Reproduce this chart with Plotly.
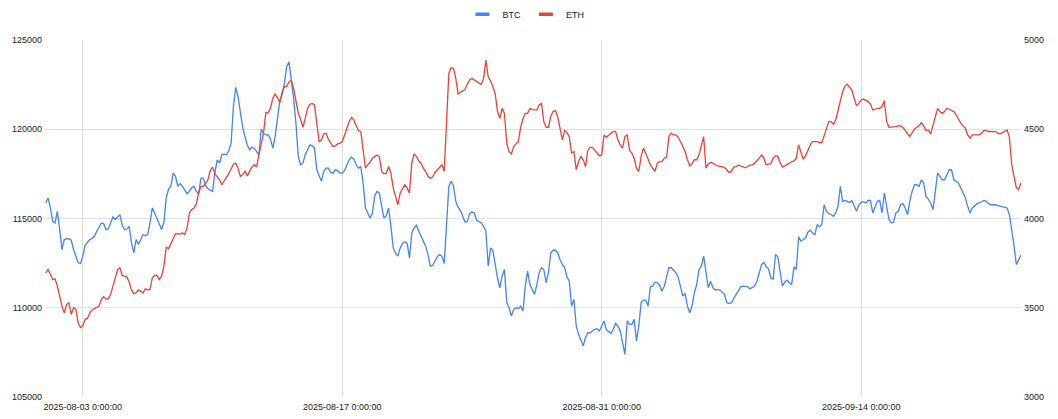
import pandas as pd
import plotly.graph_objects as go

# Prices.
# *_a : samples at 00/06/12/18 h starting 2025-08-01 00:00
# *_b : samples at 03/09/15/21 h starting 2025-08-01 03:00
start_a = "2025-08-01 00:00"
start_b = "2025-08-01 03:00"
step = "6h"

btc_a = [
    115870, 115590, 114750, 114380, 113820, 113860, 113260, 112520, 112890, 113690,
    113880, 114280, 114750, 114380, 114750, 114940, 115215, 114380, 114560, 113070,
    113540, 114100, 114100, 115590, 115030, 114380, 116150, 116800, 117360, 116950,
    116610, 116520, 116800, 116390, 117260, 116670, 116520, 118290, 118570, 118570,
    119220, 122350, 120990, 119590, 118850, 118940, 118570, 119780, 119680, 118940,
    120520, 121920, 123500, 122760, 120335, 118010, 118570, 119125, 118940, 117450,
    117635, 117820, 117540, 117690, 117540, 118010, 118440, 118010, 117910, 115590,
    115030, 116280, 116430, 115030, 115590, 113350, 112890, 113600, 113600, 114190,
    114620, 114000, 113450, 112330, 112660, 112980, 112480, 116800, 116840, 115630,
    115120, 114840, 115360, 114900, 114750, 114280, 113350, 112330, 111120, 112140,
    110000, 109910, 109950, 109820, 112050, 111025, 111300, 112240, 111400, 113070,
    113220, 112700, 112240, 111490, 110470, 108510, 107860, 108600, 108700, 108830,
    108980, 108760, 108570, 109130, 108700, 107390, 109070, 109350, 108980, 110430,
    110090, 111210, 111400, 110930, 111680, 112240, 111960, 111210, 110800, 109720,
    110840, 112140, 112890, 111120, 111120, 111030, 110880, 110280, 110280, 110750,
    111180, 111210, 111060, 111210, 111960, 112550, 112180, 111580, 112850, 111210,
    111550, 111300, 112140, 113730, 113910, 114340, 114100, 114530, 115770, 115270,
    115120, 115680, 115960, 115960, 116010, 115400, 115900, 115870, 116010, 115590,
    116010, 116430, 114940, 114790, 115400, 115830, 115220, 116520, 116890, 117170,
    116240, 115870, 116520, 117360, 117170, 117730, 117170, 116980, 116390, 115680,
    115590, 115830, 115960, 115960, 115770, 115770, 115680, 115640, 115210, 113450,
    112700,
]
btc_b = [
    116150, 114840, 115400, 113260, 113870, 113780, 112890, 112480, 113500, 113820,
    114000, 114560, 114710, 114430, 115080, 115080, 114640, 114410, 113630, 113820,
    113820, 114040, 114750, 115310, 114660, 114790, 116650, 117540, 116800, 116800,
    116390, 116720, 116520, 117260, 116840, 116580, 117540, 118100, 118600, 118790,
    121270, 121830, 120110, 119120, 118990, 118720, 120000, 119680, 119460, 119590,
    121550, 122570, 123780, 121730, 118470, 118100, 118850, 119070, 117730, 117080,
    117820, 117580, 117730, 117540, 117690, 118290, 118320, 117820, 116980, 115310,
    115310, 116520, 115680, 115160, 114560, 113040, 113350, 113690, 112790, 114470,
    114280, 113730, 112980, 112370, 112850, 112890, 114750, 117080, 115960, 115460,
    114790, 115270, 115310, 114840, 114560, 112330, 113220, 111680, 111770, 110280,
    109540, 110000, 110090, 111210, 111300, 110750, 111960, 112140, 111960, 113220,
    113070, 112420, 111730, 110090, 108980, 108230, 108330, 108600, 108790, 108700,
    109260, 108640, 108790, 108980, 108050, 109260, 109070, 108140, 110280, 110430,
    111180, 111430, 111250, 111210, 112240, 112110, 111730, 110650, 110090, 110090,
    111300, 112330, 111960, 111490, 110990, 110990, 110750, 110240, 110560, 110930,
    111210, 111180, 111120, 111490, 112420, 112290, 111680, 112980, 111960, 111430,
    111400, 112290, 113970, 113820, 114230, 114190, 114660, 114660, 115400, 115220,
    115310, 116800, 116010, 115900, 115680, 115770, 115940, 116010, 115310, 115960,
    115310, 115590, 114750, 115310, 115770, 115590, 115960, 116890, 116800, 116980,
    116090, 115490, 117540, 117170, 117450, 117730, 117080, 116710, 116150, 115310,
    115740, 115870, 116010, 115830, 115770, 115720, 115680, 115590, 114380, 112420,
    112950,
]

eth_a = [
    3696, 3686, 3662, 3565, 3472, 3528, 3500, 3416, 3398, 3440,
    3488, 3504, 3547, 3547, 3575, 3673, 3724, 3677, 3644, 3579,
    3600, 3584, 3600, 3668, 3681, 3677, 3841, 3860, 3915, 3913,
    3910, 4031, 4059, 4143, 4180, 4217, 4288, 4232, 4189, 4232,
    4277, 4310, 4236, 4264, 4264, 4301, 4357, 4478, 4593, 4673,
    4679, 4705, 4740, 4772, 4667, 4556, 4561, 4640, 4636, 4431,
    4474, 4444, 4403, 4418, 4431, 4511, 4567, 4519, 4487, 4282,
    4314, 4347, 4347, 4250, 4291, 4170, 4077, 4170, 4170, 4310,
    4347, 4310, 4264, 4226, 4258, 4291, 4264, 4813, 4841, 4697,
    4717, 4753, 4785, 4770, 4751, 4887, 4772, 4701, 4561, 4589,
    4375, 4403, 4431, 4561, 4589, 4610, 4608, 4645, 4511, 4571,
    4604, 4506, 4493, 4459, 4375, 4319, 4329, 4381, 4399, 4366,
    4357, 4455, 4478, 4487, 4412, 4459, 4381, 4338, 4264, 4394,
    4329, 4282, 4310, 4319, 4343, 4478, 4468, 4431, 4375, 4295,
    4329, 4357, 4459, 4306, 4310, 4295, 4291, 4273, 4264, 4291,
    4295, 4284, 4299, 4310, 4338, 4338, 4306, 4338, 4349, 4288,
    4304, 4318, 4338, 4366, 4351, 4412, 4431, 4425, 4463, 4543,
    4528, 4608, 4710, 4753, 4720, 4631, 4664, 4664, 4641, 4612,
    4617, 4660, 4511, 4515, 4519, 4511, 4478, 4481, 4511, 4537,
    4492, 4474, 4580, 4599, 4599, 4612, 4599, 4552, 4519, 4468,
    4468, 4468, 4478, 4492, 4487, 4487, 4474, 4487, 4455, 4236,
    4161,
]
eth_b = [
    3714, 3658, 3621, 3509, 3519, 3463, 3491, 3389, 3435, 3472,
    3494, 3509, 3562, 3551, 3625, 3714, 3681, 3673, 3600, 3584,
    3593, 3606, 3603, 3681, 3658, 3733, 3830, 3886, 3914, 3919,
    3947, 4049, 4083, 4180, 4195, 4269, 4251, 4217, 4208, 4251,
    4304, 4282, 4245, 4239, 4288, 4288, 4422, 4593, 4617, 4697,
    4650, 4738, 4766, 4729, 4589, 4511, 4617, 4645, 4515, 4440,
    4478, 4422, 4407, 4422, 4468, 4543, 4552, 4493, 4366, 4301,
    4338, 4355, 4264, 4254, 4254, 4115, 4143, 4189, 4143, 4362,
    4323, 4282, 4236, 4232, 4273, 4301, 4534, 4846, 4785, 4707,
    4723, 4776, 4776, 4761, 4785, 4794, 4738, 4599, 4617, 4422,
    4362, 4418, 4511, 4589, 4617, 4608, 4636, 4543, 4511, 4599,
    4571, 4440, 4481, 4366, 4273, 4347, 4291, 4399, 4381, 4351,
    4468, 4468, 4487, 4440, 4394, 4468, 4366, 4282, 4347, 4366,
    4301, 4264, 4319, 4338, 4459, 4468, 4455, 4403, 4329, 4306,
    4329, 4407, 4282, 4314, 4301, 4291, 4286, 4258, 4288, 4299,
    4291, 4291, 4301, 4325, 4357, 4301, 4306, 4351, 4314, 4295,
    4310, 4323, 4412, 4332, 4385, 4431, 4431, 4425, 4511, 4543,
    4552, 4664, 4742, 4735, 4673, 4645, 4669, 4655, 4608, 4617,
    4627, 4543, 4511, 4515, 4519, 4493, 4459, 4500, 4519, 4519,
    4496, 4524, 4617, 4589, 4617, 4604, 4580, 4534, 4506, 4450,
    4468, 4468, 4493, 4487, 4487, 4478, 4481, 4496, 4301, 4171,
    4200,
]

x_range = ["2025-07-31 23:00", "2025-09-22 15:00"]
x_tick_vals = ["2025-08-03", "2025-08-17", "2025-08-31", "2025-09-14"]
x_tick_text = ["2025-08-03 0:00:00", "2025-08-17 0:00:00", "2025-08-31 0:00:00", "2025-09-14 0:00:00"]
btc_ticks = [105000, 110000, 115000, 120000, 125000]
eth_ticks = [3000, 3500, 4000, 4500, 5000]

BLUE = "#4285F4"
RED = "#EA4335"
FONT = "Liberation Sans, Arial, sans-serif"
TXT = "#222222"

df = pd.concat([
    pd.DataFrame({"time": pd.date_range(start_a, periods=len(btc_a), freq=step),
                  "btc": btc_a, "eth": eth_a}),
    pd.DataFrame({"time": pd.date_range(start_b, periods=len(btc_b), freq=step),
                  "btc": btc_b, "eth": eth_b}),
]).sort_values("time")

fig = go.Figure()
fig.add_trace(go.Scatter(x=df["time"], y=df["btc"], mode="lines",
                         line=dict(color=BLUE, width=1.3),
                         name="BTC", showlegend=False, yaxis="y"))
fig.add_trace(go.Scatter(x=df["time"], y=df["eth"], mode="lines",
                         line=dict(color=RED, width=1.3),
                         name="ETH", showlegend=False, yaxis="y2"))
# legend entries (short swatches like the reference)
for nm, col in (("BTC", BLUE), ("ETH", RED)):
    fig.add_trace(go.Scatter(x=[None], y=[None], mode="markers", name=nm,
                             marker=dict(symbol="line-ew", size=10,
                                         line=dict(width=3.5, color=col))))

fig.update_layout(
    width=1058, height=419,
    template="none",
    margin=dict(l=37.4, r=44.7, t=32.3, b=29.7, autoexpand=False),
    paper_bgcolor="white", plot_bgcolor="white",
    font=dict(family=FONT, size=9, color=TXT),
    showlegend=True,
    legend=dict(orientation="h", x=0.4895, xanchor="center", y=0.985, yanchor="middle",
                yref="container", xref="container", itemwidth=30,
                font=dict(size=9, color=TXT),
                bgcolor="rgba(0,0,0,0)", borderwidth=0),
    xaxis=dict(range=x_range, tickvals=x_tick_vals, ticktext=x_tick_text,
               showgrid=True, gridcolor="#dddddd", gridwidth=1, zeroline=False,
               showline=False, ticks="", automargin=False, ticklabelstandoff=3,
               tickfont=dict(size=9, color=TXT)),
    yaxis=dict(range=[105000, 125000], tickvals=btc_ticks, showgrid=True,
               gridcolor="#e3e3e3", gridwidth=1, zeroline=False, showline=False, ticks="",
               automargin=False, tickformat="d", ticklabelstandoff=2,
               tickfont=dict(size=9, color=TXT)),
    yaxis2=dict(range=[3000, 5000], tickvals=eth_ticks, overlaying="y", side="right",
                showgrid=False, zeroline=False, showline=False, ticks="", automargin=False,
                tickformat="d", ticklabelstandoff=2, tickfont=dict(size=9, color=TXT)),
)

fig.write_html("out.html")
